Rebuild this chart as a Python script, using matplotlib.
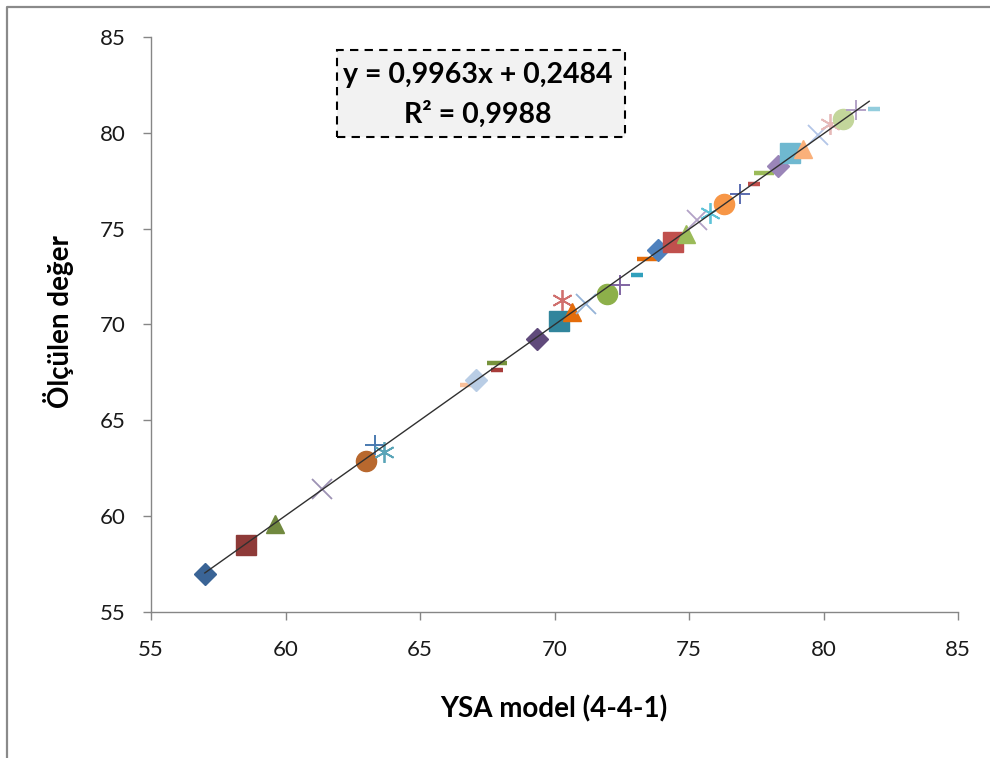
import numpy as np
import matplotlib.pyplot as plt
from matplotlib.lines import Line2D
from matplotlib.patches import Rectangle

plt.rcParams['font.family'] = ['Lato', 'DejaVu Sans']

# measured (YSA model) vs observed values, one point per sample
x_model = [57.0, 58.53, 59.6, 61.36, 63.0, 63.33, 63.66, 66.7, 67.1, 67.86, 67.86,
           69.35, 70.17, 70.28, 70.65, 71.17, 71.95, 72.43, 73.07, 73.44, 73.85,
           74.4, 74.9, 75.3, 75.78, 76.3, 76.9, 77.4, 77.8, 78.3, 78.75, 79.23,
           79.8, 80.24, 80.73, 81.2, 81.88]
y_meas = [57.0, 58.5, 59.6, 61.4, 62.9, 63.7, 63.35, 66.85, 67.1, 67.98, 67.6,
          69.25, 70.2, 71.3, 70.67, 71.07, 71.6, 72.06, 72.58, 73.4, 73.9,
          74.3, 74.73, 75.46, 75.8, 76.3, 76.8, 77.35, 77.9, 78.27, 78.95, 79.16,
          79.9, 80.46, 80.72, 81.2, 81.24]
shapes = ['D', 's', '^', 'x', 'o', '+', 'star', 'dash', 'D', 'longdash', 'dash',
          'D', 's', 'star', '^', 'x', 'o', '+', 'dash', 'longdash', 'D',
          's', '^', 'x', 'star', 'o', '+', 'dash', 'longdash', 'D', 's', '^',
          'x', 'star', 'o', '+', 'dash']
colors = ['#3a6496', '#8e3a38', '#71893f', '#9d92b4', '#b8682e', '#4a7ab0', '#5aa5b8',
          '#f9c09a', '#b9cde5', '#77933c', '#a83c3a',
          '#604a7b', '#31859c', '#d0706e', '#e46c0a', '#95b3d7', '#8db04a', '#8064a2',
          '#31a0bc', '#e46c0a', '#4f81bd',
          '#c0504d', '#9bbb59', '#b3a2c7', '#5ec3d8', '#f79646', '#5b6cb0', '#c0504d',
          '#9bbb59', '#9a85b8', '#6fb8d0', '#fab07a',
          '#b3c6e7', '#e6b9b8', '#c3d69b', '#b3a2c7', '#93cddd']

slope, intercept = 0.9963, 0.2484
eq_text = 'y = 0,9963x + 0,2484'
r2_text = 'R² = 0,9988'

W, H = 990, 758
fig = plt.figure(figsize=(W / 100, H / 100), dpi=100)
ax = fig.add_axes([151 / W, 1 - 612 / H, (958 - 151) / W, (612 - 37) / H])

style = {
    'D': dict(marker='D', ms=11),
    's': dict(marker='s', ms=14),
    '^': dict(marker='^', ms=13),
    'x': dict(marker='x', ms=15, mew=1.3),
    'star': dict(marker=(6, 2, 0), ms=15, mew=1.3),
    'o': dict(marker='o', ms=14.5),
    '+': dict(marker='+', ms=15, mew=1.4),
    'dash': dict(marker='_', ms=8, mew=3.2),
    'longdash': dict(marker='_', ms=14, mew=3.2),
}
for xv, yv, sh, c in zip(x_model, y_meas, shapes, colors):
    ax.plot([xv], [yv], linestyle='none', color=c, mec=c, zorder=2, **style[sh])

# linear trend line across the data range
xl = np.array([min(x_model), 81.7])
ax.plot(xl, slope * xl + intercept, color='#303030', lw=1.0, zorder=3)

ax.set_xlim(55, 85)
ax.set_ylim(55, 85)
ax.set_xticks(range(55, 86, 5))
ax.set_yticks(range(55, 86, 5))
for s in ['top', 'right']:
    ax.spines[s].set_visible(False)
for s in ['left', 'bottom']:
    ax.spines[s].set_color('#868686')
    ax.spines[s].set_linewidth(1.0)
ax.tick_params(axis='both', direction='out', length=6, width=1.0, color='#868686',
               labelsize=16, labelcolor='#1a1a1a')
ax.tick_params(axis='x', pad=14)
ax.tick_params(axis='y', pad=12)

fig.text(554 / W, 1 - 709 / H, 'YSA model (4-4-1)', ha='center', va='center',
         fontsize=20, fontweight='bold')
fig.text(58 / W, 1 - 322 / H, 'Ölçülen değer', ha='center', va='center',
         rotation=90, fontsize=20, fontweight='bold')

# equation box
fig.patches.append(Rectangle((337 / W, 1 - 137 / H), 288 / W, 87 / H,
                             transform=fig.transFigure, facecolor='#f2f2f2',
                             edgecolor='black', linestyle=(0, (4, 3)), lw=1.5))
fig.text(478 / W, 1 - 75 / H, eq_text, ha='center', va='center', fontsize=20.5,
         fontweight='bold')
fig.text(478 / W, 1 - 114 / H, r2_text, ha='center', va='center', fontsize=20.5,
         fontweight='bold')

# outer chart border (left and top)
fig.lines.append(Line2D([7 / W, 7 / W, 1], [0, 1 - 7 / H, 1 - 7 / H],
                        transform=fig.transFigure, color='#8a8a8a', lw=1.6))

fig.savefig('out.png', dpi=100)
